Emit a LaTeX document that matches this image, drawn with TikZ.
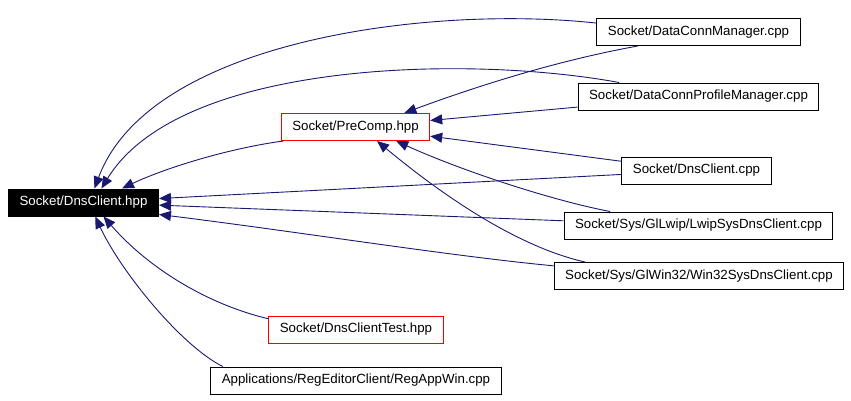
\documentclass[tikz,border=0pt]{standalone}
\usepackage{fontspec}
\setmainfont{Liberation Sans}
\usetikzlibrary{arrows.meta}
\definecolor{edgeblue}{RGB}{25,25,112}
\begin{document}
\begin{tikzpicture}[
  x=1pt, y=-1pt,
  every node/.style={font=\fontsize{13.3}{16}\selectfont},
  file/.style={draw, line width=1pt, inner xsep=11pt, minimum height=27pt},
  hdr/.style={file, draw=red},
  cur/.style={file, fill=black, text=white},
  edge/.style={draw=edgeblue, line width=0.9pt, -{Triangle[length=12pt,width=10pt,fill=edgeblue]}},
]
\useasboundingbox (0,0) rectangle (851,400);

\node[cur] (dch) at (83.5,202.5) {Socket/DnsClient.hpp};
\node[hdr] (pc) at (355.5,127) {Socket/PreComp.hpp};
\node[file] (dcm) at (698.5,32) {Socket/DataConnManager.cpp};
\node[file] (dcpm) at (698.5,96.5) {Socket/DataConnProfileManager.cpp};
\node[file] (dcc) at (696.5,170.5) {Socket/DnsClient.cpp};
\node[file] (lsc) at (698.5,225.5) {Socket/Sys/GlLwip/LwipSysDnsClient.cpp};
\node[file] (w32) at (699,276) {Socket/Sys/GlWin32/Win32SysDnsClient.cpp};
\node[hdr] (dct) at (356,329.5) {Socket/DnsClientTest.hpp};
\node[file] (raw) at (356,380.5) {Applications/RegEditorClient/RegAppWin.cpp};

% into Socket/DnsClient.hpp
\draw[edge] (dcm.175) .. controls (430,5) and (150,40) .. (dch.52);
\draw[edge] (dcpm.170) .. controls (470,55) and (180,60) .. (dch.38);
\draw[edge] (pc.191) .. controls (230,148) and (165,168) .. (dch.20);
\draw[edge] (dcc.183) -- (dch.3);
\draw[edge] (lsc.178) -- (dch.-2);
\draw[edge] (w32.176) .. controls (450,256) and (300,232) .. (dch.-9);
\draw[edge] (dct.173) .. controls (210,305) and (150,270) .. (dch.-35);
\draw[edge] (raw.174) .. controls (180,345) and (120,270) .. (dch.-50);

% into Socket/PreComp.hpp
\draw[edge] (dcm.-167) .. controls (560,60) and (480,85) .. (pc.16);
\draw[edge] (dcpm.-175) -- (pc.5);
\draw[edge] (dcc.173) -- (pc.-7.5);
\draw[edge] (lsc.171) .. controls (550,200) and (460,170) .. (pc.-19.5);
\draw[edge] (w32.173) .. controls (510,245) and (430,185) .. (pc.-33);
\end{tikzpicture}
\end{document}
